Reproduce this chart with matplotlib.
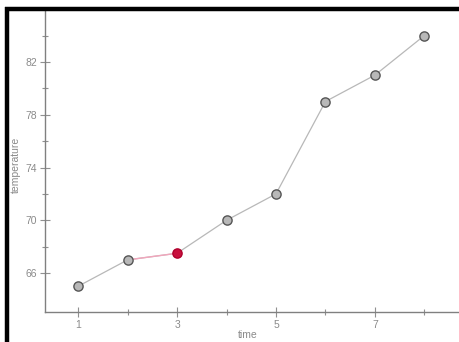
import matplotlib
matplotlib.use("Agg")
import matplotlib.pyplot as plt
from matplotlib.lines import Line2D

time = [1, 2, 3, 4, 5, 6, 7, 8]
temperature = [65, 67, 67.5, 70, 72, 79, 81, 84]
highlight_index = 2
xticks_major = [1, 3, 5, 7]
xticks_minor = [2, 4, 6, 8]
yticks_major = [66, 70, 74, 78, 82]
yticks_minor = [68, 72, 76, 80, 84]

plt.rcParams['font.family'] = ['Liberation Sans', 'DejaVu Sans']

W, H = 459, 342
fig = plt.figure(figsize=(W / 100, H / 100), dpi=100)
ax = fig.add_axes([45 / W, 30 / H, 1 - 45 / W, (312 - 11) / H])

# line segments
ax.plot(time, temperature, color='#b8b8b8', lw=0.9, zorder=1)
ax.plot(time[1:3], temperature[1:3], color='#f2a6bc', lw=1.0, zorder=2)

others = [i for i in range(len(time)) if i != highlight_index]
ax.scatter([time[i] for i in others], [temperature[i] for i in others],
           s=44, facecolor='#b8b8b8', edgecolor='#555555', linewidths=1.0, zorder=3)
ax.scatter([time[highlight_index]], [temperature[highlight_index]],
           s=44, facecolor='#c8103e', edgecolor='#b0002c', linewidths=1.0, zorder=4)

ax.set_xlim(0.33, 8.70)
ax.set_ylim(63.05, 85.86)
ax.set_xticks(xticks_major)
ax.set_xticks(xticks_minor, minor=True)
ax.set_yticks(yticks_major)
ax.set_yticks(yticks_minor, minor=True)
ax.set_xticklabels([str(v) for v in xticks_major])
ax.set_yticklabels([str(v) for v in yticks_major])

for s in ['top', 'right']:
    ax.spines[s].set_visible(False)
for s in ['left', 'bottom']:
    ax.spines[s].set_color('#808080')
    ax.spines[s].set_linewidth(1.0)

ax.tick_params(which='both', direction='inout', colors='#909090', labelcolor='#8a8a8a',
               labelsize=7.5, width=0.8)
ax.tick_params(which='major', length=7, pad=2)
ax.tick_params(which='minor', length=4)

ax.set_xlabel('time', fontsize=7.5, color='#8a8a8a', va='bottom')
ax.set_ylabel('temperature', fontsize=7.5, color='#8a8a8a')
ax.xaxis.set_label_coords(0.49, -0.094)
ax.yaxis.set_label_coords(-0.058, 0.49)

# black frame lines at top and left
fig.add_artist(Line2D([5 / W, 1], [1 - 9 / H, 1 - 9 / H], color='black', lw=3.2,
                      transform=fig.transFigure, solid_capstyle='butt'))
fig.add_artist(Line2D([7 / W, 7 / W], [0, 1 - 7 / H], color='black', lw=3.2,
                      transform=fig.transFigure, solid_capstyle='butt'))

fig.savefig('out.png', dpi=100)
